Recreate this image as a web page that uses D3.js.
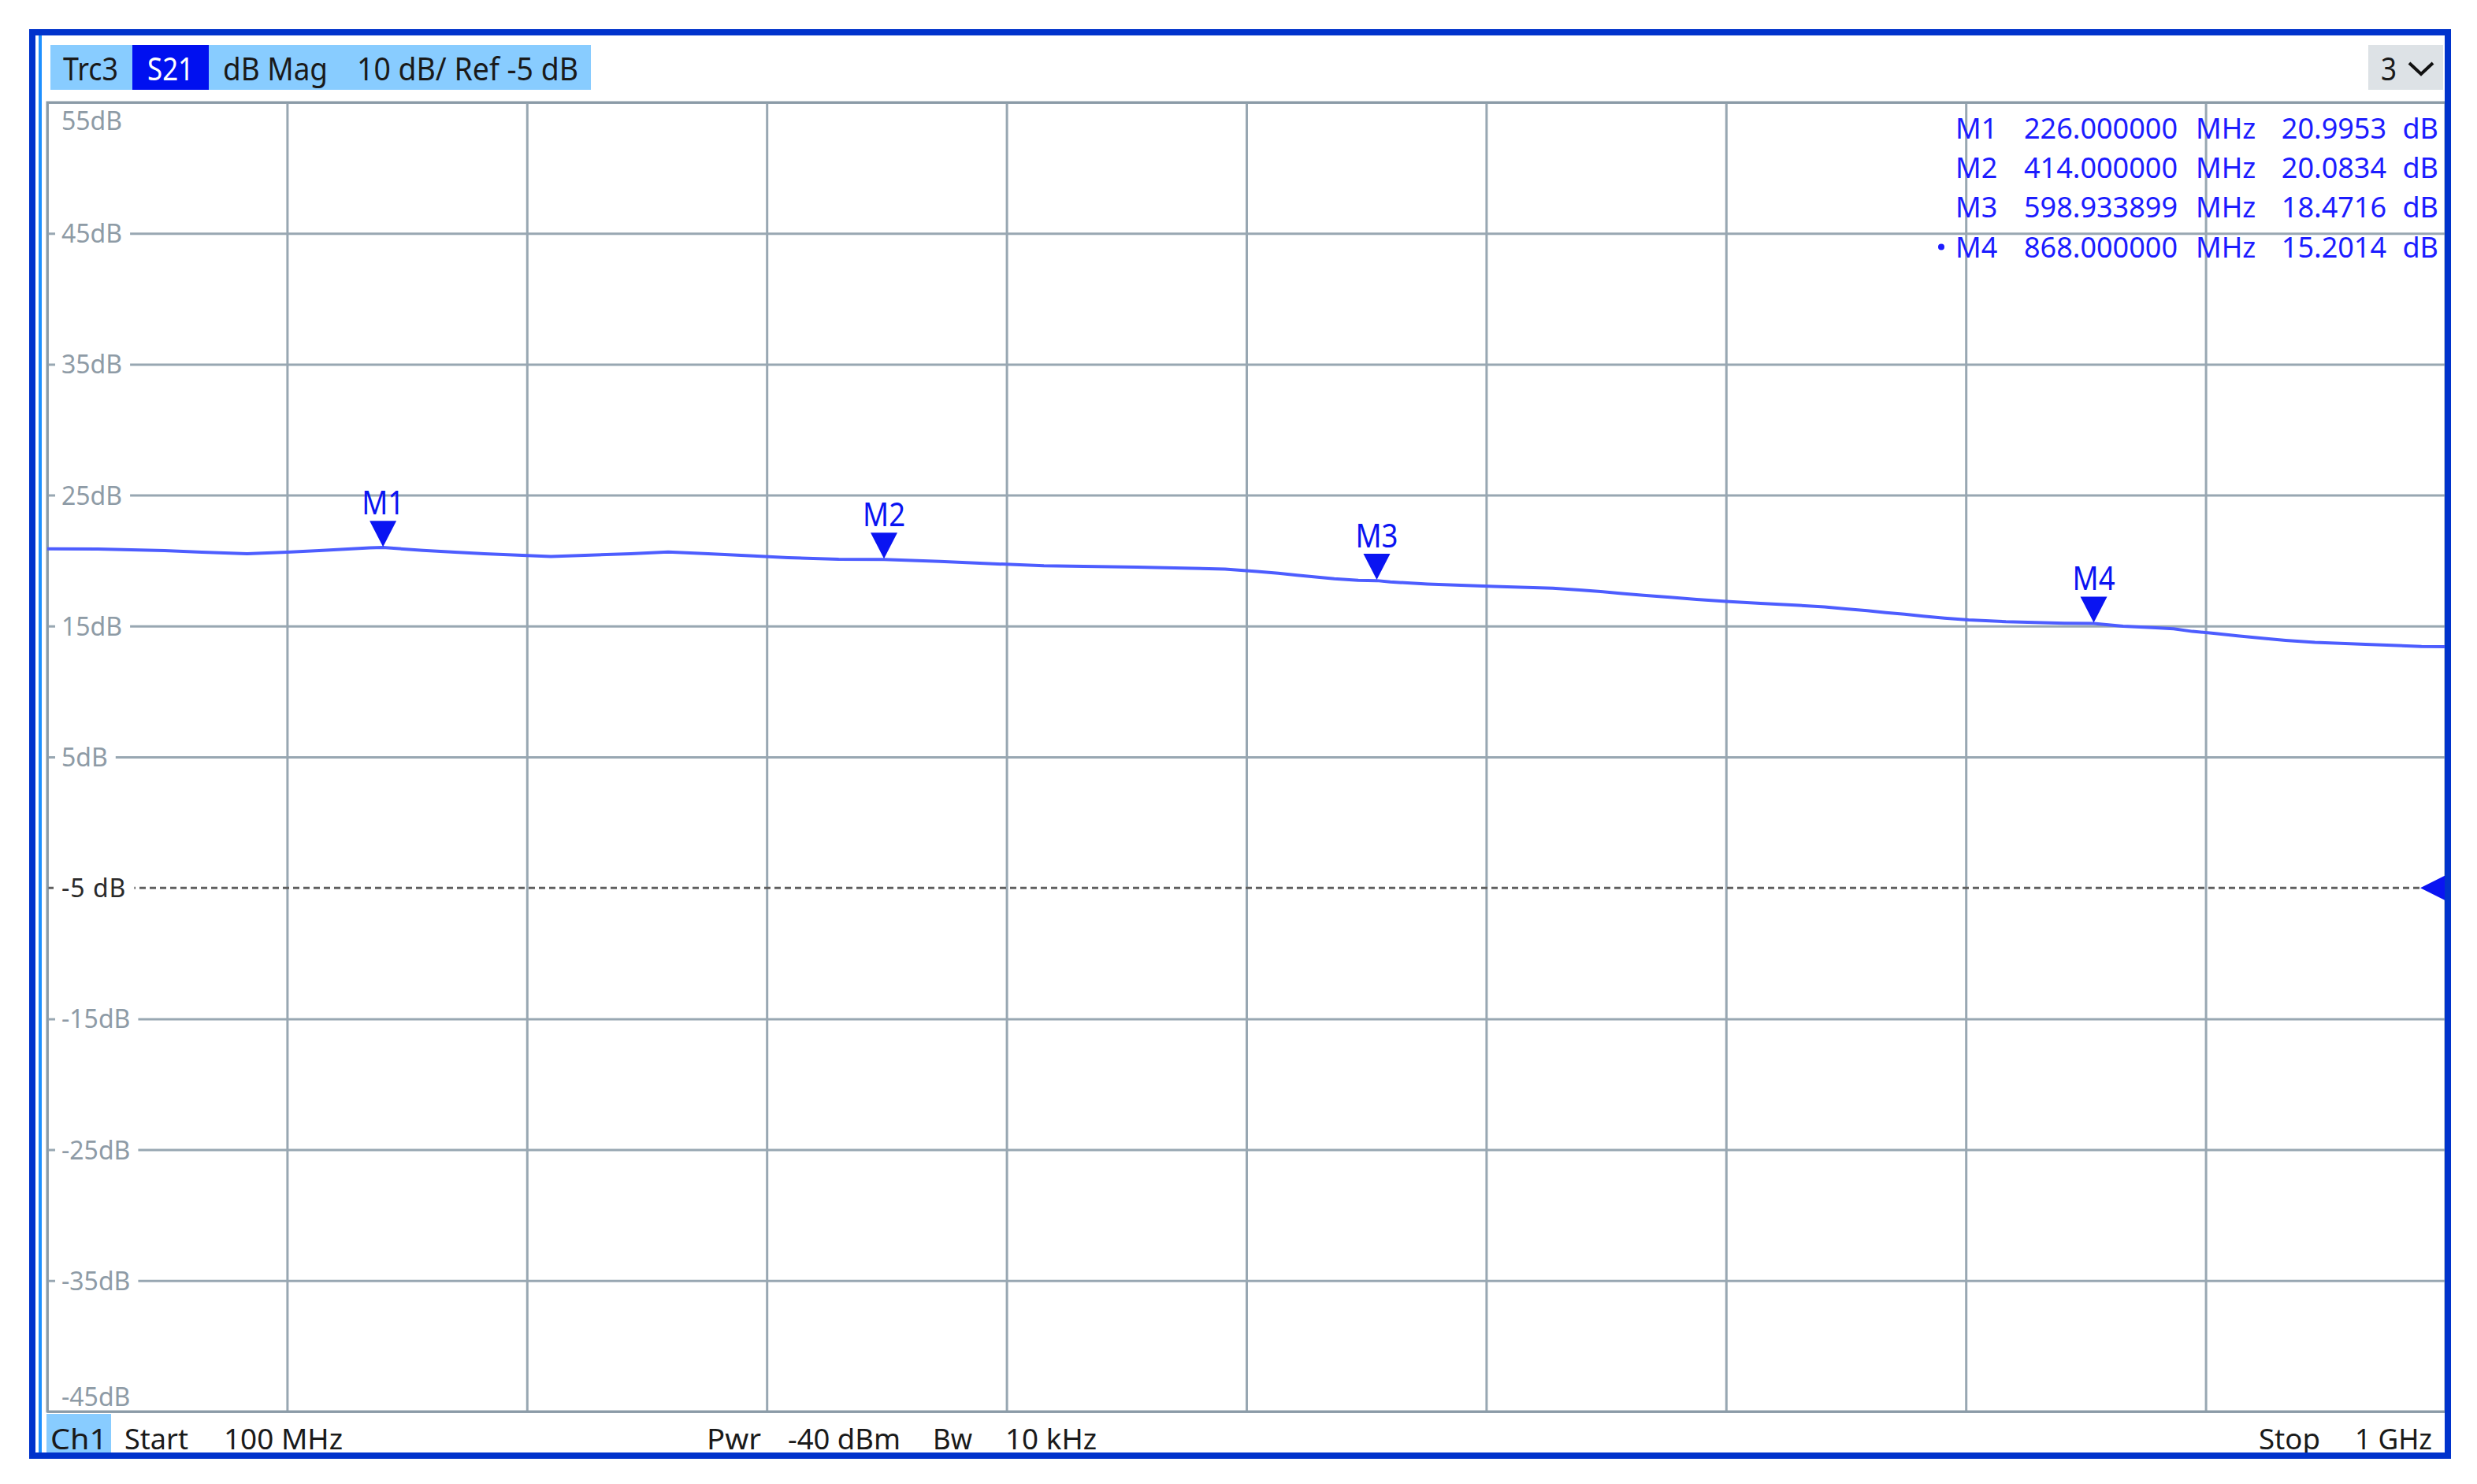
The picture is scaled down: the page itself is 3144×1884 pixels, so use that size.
<!DOCTYPE html>
<html><head><meta charset="utf-8">
<script src="https://cdn.jsdelivr.net/npm/d3@7"></script>
<style>html,body{margin:0;padding:0;background:#fff;} svg{display:block;font-family:"Noto Sans","Open Sans",sans-serif;}</style>
</head><body><svg id="chart" width="3144" height="1884"></svg>
<script>
// ---- data ----
const traceFreqMHz = [100,119,144,158,175,190,202,221,226,241,253,264,289,319,333,348,365,378,397,414,435,455,474,509,542,554,562,569,576,583,592,599,604,618,643,665,675,683,691,699,709,719,730,743,756,767,775,783,790,797,804,812,821,835,857,868,879,890,898,905,913,922,932,940,951,970,991,1000];
const traceDb = [20.90,20.88,20.76,20.64,20.52,20.64,20.76,20.98,21.00,20.78,20.64,20.52,20.32,20.52,20.66,20.52,20.36,20.22,20.10,20.08,19.94,19.76,19.61,19.50,19.35,19.17,19.03,18.89,18.75,18.61,18.50,18.47,18.37,18.21,18.03,17.89,17.75,17.63,17.49,17.35,17.20,17.04,16.88,16.74,16.60,16.46,16.31,16.17,16.03,15.90,15.75,15.61,15.47,15.33,15.22,15.20,14.99,14.89,14.79,14.59,14.45,14.25,14.05,13.91,13.75,13.60,13.44,13.42];
const markerNames = ["M1","M2","M3","M4"];
const markerFreqMHz = [226, 414, 598.933899, 868];
const markerDb = [20.9953, 20.0834, 18.4716, 15.2014];
const markerFreqText = ["226.000000","414.000000","598.933899","868.000000"];
const markerDbText = ["20.9953","20.0834","18.4716","15.2014"];
const yTickValues = [55,45,35,25,15,5,-5,-15,-25,-35,-45];
const yTickLabels = ["55dB","45dB","35dB","25dB","15dB","5dB","-5 dB","-15dB","-25dB","-35dB","-45dB"];
const xGridMHz = [100,190,280,370,460,550,640,730,820,910,1000];
const refLevelDb = -5;
const startMHz = 100, stopMHz = 1000;
const headerItems = ["Trc3","S21","dB Mag","10 dB/ Ref -5 dB"];
const footerLeft = ["Ch1","Start","100 MHz"];
const footerMid = ["Pwr","-40 dBm","Bw","10 kHz"];
const footerRight = ["Stop","1 GHz"];

// ---- layout ----
const L = 60, R = 3104, T = 130, B = 1792;
const svg = d3.select("#chart");
const x = d3.scaleLinear().domain([startMHz, stopMHz]).range([L, R]);
const y = d3.scaleLinear().domain([-45, 55]).range([B, T]);
const gridCol = "#98a7b2";
const blue = "#0a14f2";

svg.append("rect").attr("width",3144).attr("height",1884).attr("fill","#fff");

// grid via axes
const gx = svg.append("g").attr("transform",`translate(0,${B})`)
  .call(d3.axisBottom(x).tickValues(xGridMHz).tickSize(-(B-T)).tickFormat(""));
gx.select(".domain").remove();
gx.selectAll("line").attr("stroke",gridCol).attr("stroke-width",3);

const gy = svg.append("g").attr("transform",`translate(${L},0)`)
  .call(d3.axisLeft(y).tickValues(yTickValues.filter(v=>v!==refLevelDb)).tickSize(-(R-L)).tickFormat(""));
gy.select(".domain").remove();
gy.selectAll("line").attr("stroke",gridCol).attr("stroke-width",3);

// reference dashed line
svg.append("line").attr("x1",L).attr("x2",R-30).attr("y1",y(refLevelDb)).attr("y2",y(refLevelDb))
  .attr("stroke","#5f5f5f").attr("stroke-width",3).attr("stroke-dasharray","8,5");

// plot border
svg.append("rect").attr("x",L).attr("y",T).attr("width",R-L).attr("height",B-T)
  .attr("fill","none").attr("stroke","#8b9ba7").attr("stroke-width",3);

// y labels with white gaps
const ylab = svg.append("g");
yTickValues.forEach((v,i)=>{
  const isRef = v===refLevelDb;
  let by = y(v) + 12;
  if (i===0) by = y(v) + 35;
  if (i===yTickValues.length-1) by = y(v) - 7;
  const t = ylab.append("text").attr("x",78).attr("y",by)
    .attr("font-size",32).attr("fill", isRef ? "#2a2a2a" : "#8e9ba6")
    .attr("letter-spacing", isRef ? "1px" : "0px")
    .text(yTickLabels[i]);
  const w = t.node().getComputedTextLength();
  if (i!==0 && i!==yTickValues.length-1) {
    ylab.insert("rect","text").attr("x",70).attr("y",y(v)-4).attr("width",w+18).attr("height",8).attr("fill","#fff");
  }
});

// trace
const pts = traceFreqMHz.map((f,i)=>[f,traceDb[i]]);
svg.append("path").datum(pts)
  .attr("d", d3.line().x(d=>x(d[0])).y(d=>y(d[1])))
  .attr("fill","none").attr("stroke","#4d5dff").attr("stroke-width",4).attr("stroke-linejoin","round");

// markers
markerNames.forEach((m,i)=>{
  const mx = x(markerFreqMHz[i]), my = y(markerDb[i]) - 1;
  svg.append("path").attr("d",`M${mx},${my} L${mx-17},${my-33} L${mx+17},${my-33} Z`).attr("fill",blue);
  svg.append("text").attr("x",mx).attr("y",my-41).attr("text-anchor","middle")
    .attr("font-size",42).attr("fill",blue).attr("textLength",54).attr("lengthAdjust","spacingAndGlyphs").text(m);
});

// reference level triangle
const ry = y(refLevelDb);
svg.append("path").attr("d",`M${R-32},${ry} L${R},${ry-16} L${R},${ry+16} Z`).attr("fill",blue);

// marker table
const tbl = svg.append("g").attr("font-size",36).attr("fill","#1c1cff");
markerNames.forEach((m,i)=>{
  const by = 176 + 50.2*i;
  tbl.append("text").attr("x",2482).attr("y",by).text(m);
  tbl.append("text").attr("x",2764).attr("y",by).attr("text-anchor","end").text(markerFreqText[i]);
  tbl.append("text").attr("x",2787).attr("y",by).text("MHz");
  tbl.append("text").attr("x",3029).attr("y",by).attr("text-anchor","end").text(markerDbText[i]);
  tbl.append("text").attr("x",3095).attr("y",by).attr("text-anchor","end").text("dB");
  if (i===3) tbl.append("circle").attr("cx",2464).attr("cy",by-13).attr("r",4).attr("fill","#1c1cff");
});

// header bar
svg.append("rect").attr("x",64).attr("y",57).attr("width",686).attr("height",57).attr("fill","#88ccff");
svg.append("rect").attr("x",168).attr("y",57).attr("width",97).attr("height",57).attr("fill","#0010f0");
const hx = [80,187,283,453], hw = [70,59,133,281];
headerItems.forEach((h,i)=>{
  svg.append("text").attr("x",hx[i]).attr("y",102).attr("font-size",40)
    .attr("fill", i===1 ? "#ffffff" : "#1a1a1a")
    .attr("textLength",hw[i]).attr("lengthAdjust","spacingAndGlyphs").text(h);
});
// dropdown
svg.append("rect").attr("x",3006).attr("y",57).attr("width",95).attr("height",57).attr("fill","#dde2e6");
svg.append("text").attr("x",3022).attr("y",102).attr("font-size",40).attr("fill","#1a1a1a")
  .attr("textLength",20).attr("lengthAdjust","spacingAndGlyphs").text("3");
svg.append("path").attr("d","M3058,80 L3073,94 L3088,80").attr("fill","none").attr("stroke","#111").attr("stroke-width",4);

// footer
svg.append("rect").attr("x",59).attr("y",1795).attr("width",82).attr("height",51).attr("fill","#88ccff");
const fl = svg.append("g").attr("font-size",37).attr("fill","#1a1a1a");
const fLeftX = [64,158,284], fLeftW = [72,81,151];
footerLeft.forEach((t,i)=>fl.append("text").attr("x",fLeftX[i]).attr("y",1840).attr("textLength",fLeftW[i]).attr("lengthAdjust","spacingAndGlyphs").text(t));
const fMidX = [897,1000,1184,1276], fMidW = [69,143,50,116];
footerMid.forEach((t,i)=>fl.append("text").attr("x",fMidX[i]).attr("y",1840).attr("textLength",fMidW[i]).attr("lengthAdjust","spacingAndGlyphs").text(t));
const fRightX = [2867,2989], fRightW = [78,98];
footerRight.forEach((t,i)=>fl.append("text").attr("x",fRightX[i]).attr("y",1840).attr("textLength",fRightW[i]).attr("lengthAdjust","spacingAndGlyphs").text(t));

// outer frame
svg.append("rect").attr("x",49).attr("y",45).attr("width",4).attr("height",1800).attr("fill","#1e90ff");
svg.append("rect").attr("x",41).attr("y",41).attr("width",3066).attr("height",1807)
  .attr("fill","none").attr("stroke","#0033cc").attr("stroke-width",8);
</script>
</body></html>
